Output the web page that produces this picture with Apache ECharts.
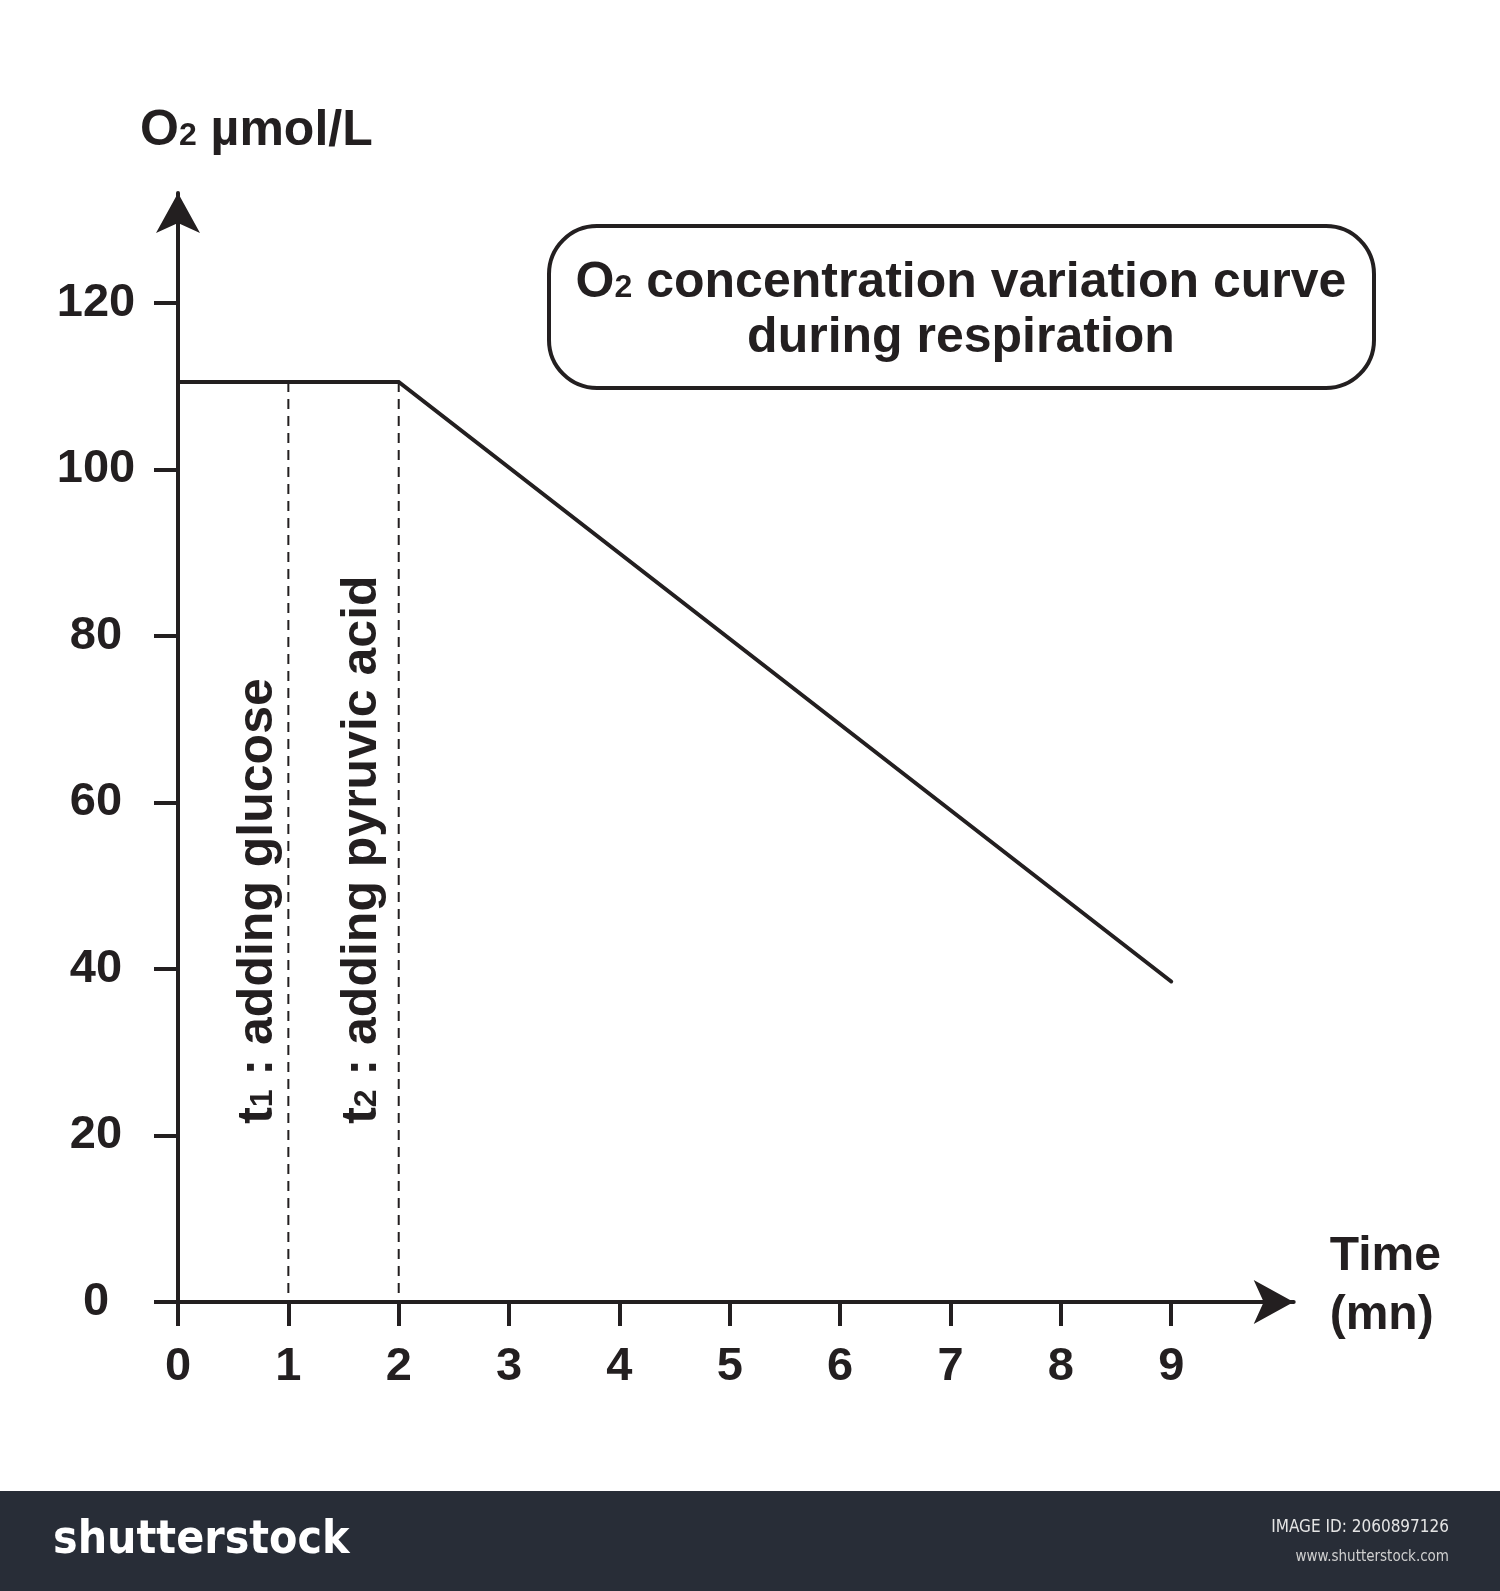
<!DOCTYPE html>
<html>
<head>
<meta charset="utf-8">
<script src="https://cdn.jsdelivr.net/npm/echarts@6/dist/echarts.min.js"></script>
<style>
html,body{margin:0;padding:0;background:#fff;}
#chart{width:1500px;height:1591px;}
</style>
</head>
<body>
<div id="chart"></div>
<script>
// ---- data ----
const timeValues = [0, 1, 2, 9];
const o2Values = [110.5, 110.5, 110.5, 38.5];
const markerTimes = [1, 2];
const markerLabels = [
  ['t', '1', ' : adding glucose'],
  ['t', '2', ' : adding pyruvic acid']
];
const xTickValues = [0, 1, 2, 3, 4, 5, 6, 7, 8, 9];
const yTickValues = [0, 20, 40, 60, 80, 100, 120];
const titleLines = [['O', '2', ' concentration variation curve'], ['', '', 'during respiration']];
const yAxisName = ['O', '2', ' \u00b5mol/L'];
const xAxisName = 'Time\n(mn)';

const INK = '#231f20';
const FONT = '"Liberation Sans", Arial, Helvetica, sans-serif';
const X_MAX = 10.11;
const Y_MAX = 133.2;

const chart = echarts.init(document.getElementById('chart'), null, {renderer: 'canvas'});

function richLine(parts) {
  let s = '';
  if (parts[0]) s += '{a|' + parts[0] + '}';
  if (parts[1]) s += '{s|' + parts[1] + '}';
  s += '{a|' + parts[2] + '}';
  return s;
}

const lineData = timeValues.map((t, i) => [t, o2Values[i]]);
const markerSeries = markerTimes.map((t) => {
  const idx = timeValues.indexOf(t);
  return {
    type: 'line',
    data: [[t, o2Values[idx]], [t, 0]],
    symbol: 'none',
    silent: true,
    z: 1,
    lineStyle: {color: INK, width: 2, type: [10, 7]}
  };
});

const option = {
  backgroundColor: '#ffffff',
  animation: false,
  grid: {left: 178, top: 193, right: 206.3, bottom: 289, containLabel: false},
  xAxis: {
    type: 'value', min: 0, max: X_MAX,
    splitLine: {show: false},
    axisLine: {show: true, onZero: false, symbol: ['none', 'arrow'], symbolSize: [33, 40],
      lineStyle: {color: INK, width: 4}},
    axisTick: {show: true, length: 24, customValues: xTickValues, lineStyle: {color: INK, width: 4}},
    axisLabel: {customValues: xTickValues, margin: 42, color: INK, fontSize: 47, fontWeight: 'bold', fontFamily: FONT}
  },
  yAxis: {
    type: 'value', min: 0, max: Y_MAX,
    splitLine: {show: false},
    axisLine: {show: true, onZero: false, symbol: ['none', 'arrow'], symbolSize: [33, 40],
      lineStyle: {color: INK, width: 4}},
    axisTick: {show: true, length: 24, customValues: yTickValues, lineStyle: {color: INK, width: 4}},
    axisLabel: {customValues: yTickValues, margin: 82, align: 'center', color: INK, fontSize: 47, fontWeight: 'bold', fontFamily: FONT}
  },
  series: [
    {
      type: 'line', data: lineData, symbol: 'none', z: 3,
      lineStyle: {color: INK, width: 4, cap: 'round', join: 'miter'}
    }
  ].concat(markerSeries)
};
chart.setOption(option);

// annotations positioned from data coordinates
const richStyle = (size) => ({
  a: {fontSize: size, fontWeight: 'bold', fontFamily: FONT, fill: INK, color: INK, verticalAlign: 'bottom', lineHeight: size},
  s: {fontSize: Math.round(size * 0.64), fontWeight: 'bold', fontFamily: FONT, fill: INK, color: INK, verticalAlign: 'bottom',
      lineHeight: Math.round(size * 0.64), padding: [0, 0, Math.round(size * 0.07), 0]}
});

const graphics = [];
// y-axis name
const yTop = chart.convertToPixel({gridIndex: 0}, [0, Y_MAX]);
graphics.push({
  type: 'text', x: yTop[0] - 38, y: 131, silent: true,
  style: {text: richLine(yAxisName), rich: richStyle(50), verticalAlign: 'middle', align: 'left', fill: INK}
});
// x-axis name
const xEnd = chart.convertToPixel({gridIndex: 0}, [X_MAX, 0]);
graphics.push({
  type: 'text', x: xEnd[0] + 36, y: xEnd[1] - 16, silent: true,
  style: {text: xAxisName, fill: INK, fontSize: 48, fontWeight: 'bold', fontFamily: FONT, lineHeight: 59,
    align: 'left', verticalAlign: 'middle'}
});
// vertical annotations
const annoX = [0.73, 1.67];
markerLabels.forEach((parts, i) => {
  const p = chart.convertToPixel({gridIndex: 0}, [annoX[i], 21.4]);
  graphics.push({
    type: 'text', x: p[0], y: p[1], rotation: Math.PI / 2, silent: true,
    style: {text: richLine(parts), rich: richStyle(50), verticalAlign: 'middle', align: 'left', fill: INK}
  });
});
// title box
graphics.push({
  type: 'rect', silent: true,
  shape: {x: 549, y: 226, width: 825, height: 162, r: 48},
  style: {fill: 'none', stroke: INK, lineWidth: 4}
});
graphics.push({
  type: 'text', x: 961, y: 283, silent: true,
  style: {text: richLine(titleLines[0]), rich: richStyle(50), align: 'center', verticalAlign: 'middle', fill: INK}
});
graphics.push({
  type: 'text', x: 961, y: 338, silent: true,
  style: {text: richLine(titleLines[1]), rich: richStyle(50), align: 'center', verticalAlign: 'middle', fill: INK}
});
// footer band
graphics.push({type: 'rect', silent: true, shape: {x: 0, y: 1491, width: 1500, height: 100}, style: {fill: '#282d37'}});
graphics.push({type: 'text', x: 53, y: 1541, silent: true,
  style: {text: 'shutterstock', fill: '#ffffff', font: 'bold 46px "DejaVu Sans Condensed", "Liberation Sans Narrow", sans-serif', verticalAlign: 'middle', align: 'left'}});
graphics.push({type: 'text', x: 1449, y: 1528, silent: true,
  style: {text: 'IMAGE ID: 2060897126', fill: '#e4e4e4', font: '17px "Liberation Sans Narrow", "DejaVu Sans Condensed", sans-serif', verticalAlign: 'middle', align: 'right'}});
graphics.push({type: 'text', x: 1449, y: 1557, silent: true,
  style: {text: 'www.shutterstock.com', fill: '#d0d0d0', font: '15px "Liberation Sans Narrow", "DejaVu Sans Condensed", sans-serif', verticalAlign: 'middle', align: 'right'}});

chart.setOption({graphic: graphics});
</script>
</body>
</html>
